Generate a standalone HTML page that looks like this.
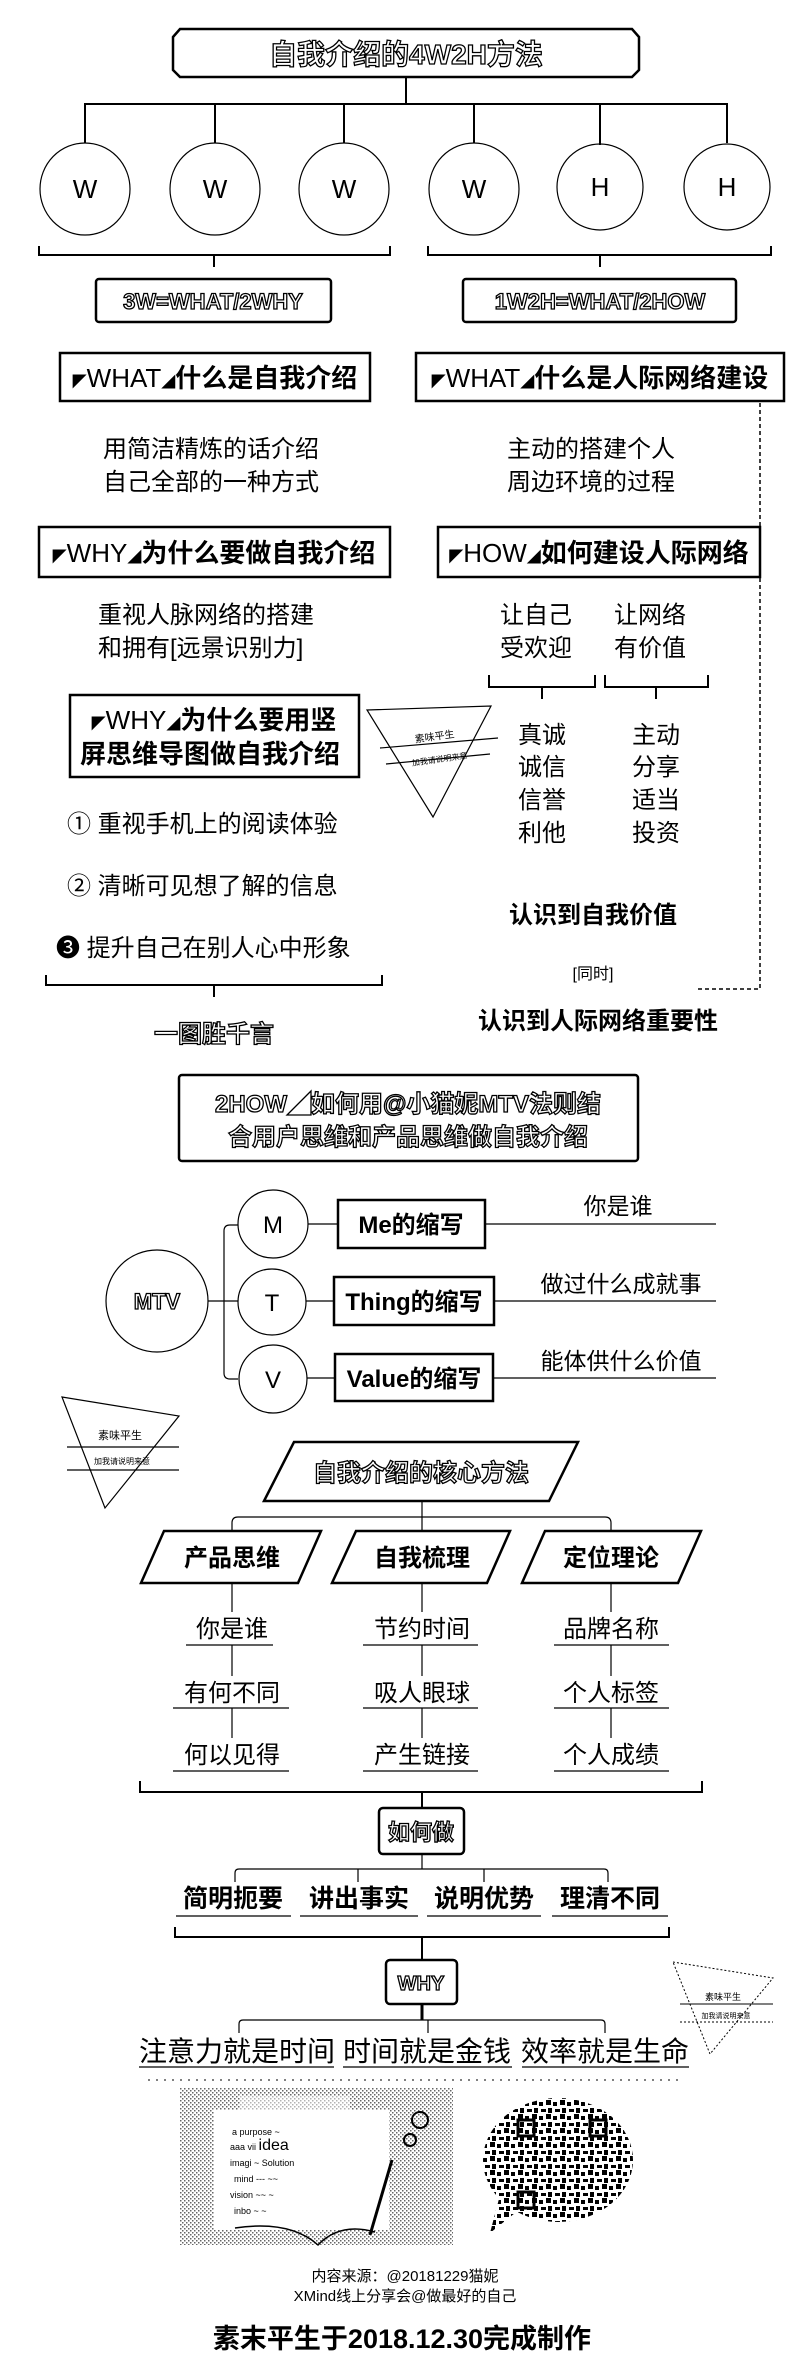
<!DOCTYPE html>
<html><head><meta charset="utf-8">
<style>
html,body{margin:0;padding:0;background:#fff;}
svg{display:block;}
text{font-family:"Liberation Sans","Noto Sans CJK SC",sans-serif;fill:#000;}
.o{fill:#fff;stroke:#000;stroke-width:1.3px;font-weight:bold;}
.b{font-weight:bold;}
.ln{stroke:#000;stroke-width:2;fill:none;}
.th{stroke:#000;stroke-width:1.2;fill:none;}
.bx{stroke:#000;stroke-width:2.5;fill:#fff;}
</style></head><body>
<svg width="800" height="2364" viewBox="0 0 800 2364" xmlns="http://www.w3.org/2000/svg">
<defs>
<pattern id="qr" width="14" height="14" patternUnits="userSpaceOnUse">
<rect x="0" y="0" width="5" height="5" fill="#000"/><rect x="7" y="2" width="4" height="4" fill="#000"/><rect x="2" y="8" width="4" height="5" fill="#000"/><rect x="9" y="9" width="5" height="3" fill="#000"/>
</pattern>
<pattern id="dot" width="4" height="4" patternUnits="userSpaceOnUse">
<rect x="0" y="0" width="1.5" height="1.5" fill="#000"/><rect x="2" y="2" width="1.5" height="1.5" fill="#000"/>
</pattern>
</defs>

<!-- title -->
<polygon class="bx" points="173,37 180,29 632,29 639,37 639,70 632,77 180,77 173,70"/>
<text class="o" x="406" y="64" font-size="28" text-anchor="middle">自我介绍的4W2H方法</text>
<path class="ln" d="M406,77V104 M85,143V104H727V143 M215,104V143 M344,104V143 M474,104V143 M600,104V145"/>
<g class="th" stroke-width="1.5">
<ellipse cx="85" cy="189" rx="45" ry="46"/><ellipse cx="215" cy="189" rx="45" ry="46"/><ellipse cx="344" cy="189" rx="45" ry="46"/><ellipse cx="474" cy="189" rx="45" ry="46"/><ellipse cx="600" cy="187" rx="43" ry="43"/><ellipse cx="727" cy="187" rx="43" ry="43"/>
</g>
<g font-size="26" text-anchor="middle"><text x="85" y="198">W</text><text x="215" y="198">W</text><text x="344" y="198">W</text><text x="474" y="198">W</text><text x="600" y="196">H</text><text x="727" y="196">H</text></g>
<path class="ln" d="M39,246V255H390V246 M214,255V267 M428,246V255H771V246 M600,255V267"/>
<rect class="bx" x="96" y="279" width="235" height="43" rx="3"/>
<rect class="bx" x="463" y="279" width="273" height="43" rx="3"/>
<text class="o" x="213" y="309" font-size="22" text-anchor="middle">3W=WHAT/2WHY</text>
<text class="o" x="600" y="309" font-size="22" text-anchor="middle">1W2H=WHAT/2HOW</text>

<rect class="bx" x="60" y="353" width="310" height="48"/>
<rect class="bx" x="416" y="353" width="368" height="48"/>
<text x="215" y="387" font-size="26" text-anchor="middle"><tspan font-size="14">◤</tspan>WHAT<tspan font-size="14">◢</tspan><tspan class="b">什么是自我介绍</tspan></text>
<text x="600" y="387" font-size="26" text-anchor="middle"><tspan font-size="14">◤</tspan>WHAT<tspan font-size="14">◢</tspan><tspan class="b">什么是人际网络建设</tspan></text>
<g font-size="24" text-anchor="middle">
<text x="211" y="457">用简洁精炼的话介绍</text><text x="211" y="490">自己全部的一种方式</text>
<text x="591" y="457">主动的搭建个人</text><text x="591" y="490">周边环境的过程</text>
</g>
<rect class="bx" x="39" y="527" width="351" height="50"/>
<rect class="bx" x="438" y="527" width="322" height="50"/>
<text x="214" y="562" font-size="26" text-anchor="middle"><tspan font-size="14">◤</tspan>WHY<tspan font-size="14">◢</tspan><tspan class="b">为什么要做自我介绍</tspan></text>
<text x="599" y="562" font-size="26" text-anchor="middle"><tspan font-size="14">◤</tspan>HOW<tspan font-size="14">◢</tspan><tspan class="b">如何建设人际网络</tspan></text>
<path d="M760,403V989H698" stroke="#000" stroke-width="1.5" fill="none" stroke-dasharray="4,3"/>

<g font-size="24">
<text x="98" y="623">重视人脉网络的搭建</text><text x="98" y="656">和拥有[远景识别力]</text>
</g>
<g font-size="24" text-anchor="middle">
<text x="536" y="623">让自己</text><text x="536" y="656">受欢迎</text>
<text x="650" y="623">让网络</text><text x="650" y="656">有价值</text>
<text x="542" y="743">真诚</text><text x="542" y="775">诚信</text><text x="542" y="808">信誉</text><text x="542" y="841">利他</text>
<text x="656" y="743">主动</text><text x="656" y="775">分享</text><text x="656" y="808">适当</text><text x="656" y="841">投资</text>
</g>
<path class="ln" d="M489,675V687H595V675 M542,687V699 M605,675V687H708V675 M656,687V699"/>

<rect class="bx" x="70" y="695" width="289" height="82"/>
<text x="214" y="729" font-size="26" text-anchor="middle"><tspan font-size="14">◤</tspan>WHY<tspan font-size="14">◢</tspan><tspan class="b">为什么要用竖</tspan></text>
<text x="210" y="763" font-size="26" text-anchor="middle" class="b">屏思维导图做自我介绍</text>

<!-- watermark 1 -->
<polygon class="th" points="367,710 491,706 433,817"/>
<line class="th" x1="380" y1="748" x2="498" y2="738"/><line class="th" x1="386" y1="764" x2="490" y2="754"/>
<text x="435" y="740" font-size="10" text-anchor="middle" transform="rotate(-8 435 740)">素味平生</text>
<text x="440" y="762" font-size="8" text-anchor="middle" transform="rotate(-8 440 762)">加我请说明来意</text>

<g font-size="24">
<text x="67" y="832">① 重视手机上的阅读体验</text>
<text x="67" y="894">② 清晰可见想了解的信息</text>
<text x="56" y="956">❸ 提升自己在别人心中形象</text>
</g>
<path class="ln" d="M46,975V985H382V975 M214,985V997"/>
<text class="o" x="214" y="1042" font-size="24" text-anchor="middle">一图胜千言</text>
<text class="b" x="593" y="923" font-size="24" text-anchor="middle">认识到自我价值</text>
<text x="593" y="979" font-size="16" text-anchor="middle">[同时]</text>
<text class="b" x="598" y="1029" font-size="24" text-anchor="middle">认识到人际网络重要性</text>

<rect class="bx" x="179" y="1075" width="459" height="86" rx="3"/>
<text class="o" x="408" y="1112" font-size="24" text-anchor="middle">2HOW◢如何用@小猫妮MTV法则结</text>
<text class="o" x="408" y="1145" font-size="24" text-anchor="middle">合用户思维和产品思维做自我介绍</text>

<!-- MTV -->
<ellipse class="th" stroke-width="1.5" cx="157" cy="1301" rx="51" ry="51"/>
<text class="o" x="157" y="1309" font-size="22" text-anchor="middle">MTV</text>
<path class="th" stroke-width="1.5" d="M208,1301H238 M238,1225H230Q224,1225 224,1231V1373Q224,1379 230,1379H238 M224,1301H238"/>
<g class="th" stroke-width="1.5">
<ellipse cx="273" cy="1224" rx="35" ry="34"/><ellipse cx="272" cy="1302" rx="34" ry="33"/><ellipse cx="273" cy="1379" rx="34" ry="34"/>
</g>
<g font-size="24" text-anchor="middle"><text x="273" y="1233">M</text><text x="272" y="1311">T</text><text x="273" y="1388">V</text></g>
<path class="th" d="M308,1224H338 M306,1301H334 M307,1378H335 M485,1224H716 M494,1301H716 M493,1378H716"/>
<rect class="bx" stroke-width="1.5" x="338" y="1200" width="147" height="48"/>
<rect class="bx" stroke-width="1.5" x="334" y="1277" width="160" height="48"/>
<rect class="bx" stroke-width="1.5" x="335" y="1354" width="158" height="47"/>
<g font-size="24" text-anchor="middle" class="b">
<text x="411" y="1233">Me的缩写</text><text x="414" y="1310">Thing的缩写</text><text x="414" y="1387">Value的缩写</text>
</g>
<g font-size="23" text-anchor="middle">
<text x="618" y="1214">你是谁</text><text x="621" y="1292">做过什么成就事</text><text x="621" y="1369">能体供什么价值</text>
</g>

<!-- watermark 2 -->
<polygon class="th" points="62,1397 179,1416 105,1508"/>
<line class="th" x1="67" y1="1447" x2="179" y2="1447"/><line class="th" x1="67" y1="1470" x2="179" y2="1470"/>
<text x="120" y="1439" font-size="11" text-anchor="middle">素味平生</text>
<text x="122" y="1464" font-size="8" text-anchor="middle">加我请说明来意</text>

<!-- core -->
<polygon class="bx" stroke-width="1.5" points="294,1442 578,1442 549,1501 264,1501"/>
<text class="o" x="421" y="1481" font-size="24" text-anchor="middle">自我介绍的核心方法</text>
<path class="th" stroke-width="1.5" d="M422,1501V1531 M232,1531V1523Q232,1517 238,1517H605Q611,1517 611,1523V1531"/>
<g class="bx" stroke-width="1.5">
<polygon points="164,1531 321,1531 298,1583 141,1583"/>
<polygon points="356,1531 510,1531 487,1583 332,1583"/>
<polygon points="545,1531 701,1531 678,1583 522,1583"/>
</g>
<g font-size="24" text-anchor="middle" class="b">
<text x="232" y="1566">产品思维</text><text x="422" y="1566">自我梳理</text><text x="611" y="1566">定位理论</text>
</g>
<path class="th" d="M232,1583V1612 M232,1645V1676 M232,1708V1738 M422,1583V1612 M422,1645V1676 M422,1708V1738 M611,1583V1612 M611,1645V1676 M611,1708V1738"/>
<g font-size="24" text-anchor="middle">
<text x="232" y="1637">你是谁</text><text x="232" y="1701">有何不同</text><text x="232" y="1763">何以见得</text>
<text x="422" y="1637">节约时间</text><text x="422" y="1701">吸人眼球</text><text x="422" y="1763">产生链接</text>
<text x="611" y="1637">品牌名称</text><text x="611" y="1701">个人标签</text><text x="611" y="1763">个人成绩</text>
</g>
<path class="th" d="M186,1645H273 M173,1708H289 M173,1771H289 M363,1645H478 M363,1708H478 M363,1771H478 M554,1645H669 M554,1708H669 M554,1771H669"/>
<path class="ln" d="M140,1781V1792H702V1781 M422,1792V1808"/>

<rect class="bx" stroke-width="3" x="379" y="1808" width="85" height="46" rx="4"/>
<text class="o" x="421" y="1840" font-size="22" text-anchor="middle">如何做</text>
<path class="th" d="M422,1854V1869 M235,1882V1873Q235,1869 239,1869H604Q608,1869 608,1873V1882 M358,1869V1882 M484,1869V1882"/>
<g font-size="25" text-anchor="middle" class="b">
<text x="233" y="1907">简明扼要</text><text x="359" y="1907">讲出事实</text><text x="484" y="1907">说明优势</text><text x="610" y="1907">理清不同</text>
</g>
<path class="th" d="M176,1916H291 M300,1916H418 M427,1916H541 M552,1916H668"/>
<path class="ln" d="M175,1927V1937H669V1927 M422,1937V1960"/>
<rect class="bx" stroke-width="3" x="386" y="1960" width="71" height="44" rx="4"/>
<text class="o" x="421" y="1990" font-size="20" text-anchor="middle">WHY</text>
<path class="th" d="M422,2004V2020 M239,2033V2024Q239,2020 243,2020H601Q605,2020 605,2024V2033 M428,2020V2033"/>
<path d="M422,2004V2020" stroke="#000" stroke-width="3"/>
<g font-size="28" text-anchor="middle">
<text x="237" y="2061">注意力就是时间</text><text x="427" y="2061">时间就是金钱</text><text x="605" y="2061">效率就是生命</text>
</g>
<path class="th" d="M139,2067H334 M343,2067H512 M522,2067H689"/>
<path d="M148,2080H680" stroke="#000" stroke-width="1" stroke-dasharray="2,6"/>

<!-- watermark 3 -->
<polygon points="673,1962 773,1978 710,2054" fill="none" stroke="#000" stroke-width="1" stroke-dasharray="2,2"/>
<line x1="680" y1="2004" x2="773" y2="2004" stroke="#000" stroke-width="1"/>
<line x1="680" y1="2022" x2="773" y2="2022" stroke="#000" stroke-width="1" stroke-dasharray="2,2"/>
<text x="723" y="2000" font-size="9" text-anchor="middle">素味平生</text>
<text x="726" y="2018" font-size="7" text-anchor="middle">加我请说明来意</text>

<!-- picture -->
<rect x="180" y="2088" width="273" height="157" fill="url(#dot)" opacity="0.6"/>
<rect x="214" y="2110" width="175" height="120" fill="#fff"/>
<rect x="240" y="2096" width="110" height="30" fill="#fff" opacity="0.5"/>
<g font-size="9" fill="#000">
<text x="232" y="2135">a  purpose  ~</text><text x="230" y="2150">aaa  vii  <tspan font-size="16">idea</tspan></text><text x="230" y="2166">imagi   ~ Solution</text><text x="234" y="2182">mind  ---  ~~</text><text x="230" y="2198">vision  ~~ ~</text><text x="234" y="2214">inbo  ~  ~</text>
</g>
<path d="M392,2160L370,2235" stroke="#000" stroke-width="3"/>
<path d="M235,2228Q290,2220 318,2245Q340,2222 375,2232" stroke="#000" stroke-width="1.5" fill="none"/>
<circle cx="420" cy="2120" r="8" fill="none" stroke="#000" stroke-width="2"/>
<circle cx="410" cy="2140" r="6" fill="none" stroke="#000" stroke-width="2"/>

<!-- QR bubble -->
<ellipse cx="558" cy="2160" rx="75" ry="62" fill="url(#qr)"/>
<polygon points="500,2195 525,2205 490,2233" fill="url(#qr)"/>
<g fill="none" stroke="#000" stroke-width="3">
<rect x="518" y="2120" width="16" height="16"/><rect x="590" y="2120" width="16" height="16"/><rect x="518" y="2192" width="16" height="16"/>
</g>

<g font-size="15" text-anchor="middle">
<text x="405" y="2281">内容来源：@20181229猫妮</text>
<text x="405" y="2301">XMind线上分享会@做最好的自己</text>
</g>
<text x="402" y="2348" font-size="27" text-anchor="middle" class="b">素末平生于2018.12.30完成制作</text>
</svg>
</body></html>
